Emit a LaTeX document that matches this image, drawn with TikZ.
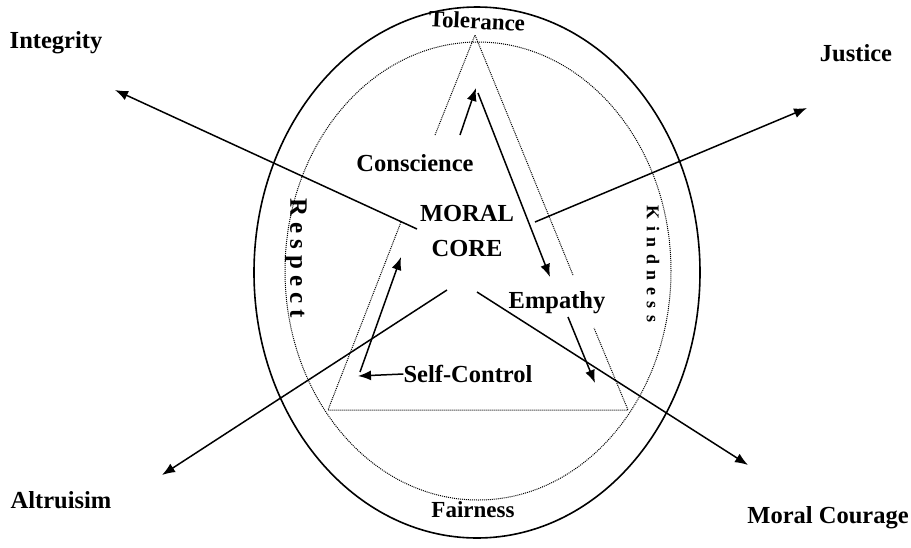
\documentclass[tikz,border=0pt]{standalone}
\usepackage{fontspec}
\setmainfont{Liberation Serif}
\usepackage{tikz}
\usetikzlibrary{arrows.meta,positioning}

\begin{document}
\begin{tikzpicture}[x=1pt,y=-1pt,
    lab/.style={font=\bfseries\fontsize{24.5}{35}\selectfont,inner sep=0pt},
    ring/.style={font=\bfseries\fontsize{23}{25}\selectfont,inner sep=0pt},
    arr/.style={line width=1.5pt,-{Latex[length=13pt,width=10pt]}},
    dots/.style={densely dotted,line width=1pt}]
    \useasboundingbox (0,0) rectangle (911,547);

    % 外圈和内圈
    \draw[line width=1.6pt] (477,272.5) ellipse [x radius=223pt,y radius=265.5pt];
    \draw[dots] (478,271) ellipse [x radius=193pt,y radius=229pt];

    % 三角形 (文字处断开)
    \coordinate (apex) at (475,35); \coordinate (bl) at (328,410); \coordinate (br) at (628,410);
    \draw[dots] (435,135) -- (apex) -- (573,275);
    \draw[dots] (401,222) -- (bl) -- (br) -- (594,328);

    % 圈上的字
    \node[ring,rotate=-3] (tol) at (477,21) {Tolerance};
    \node[ring] (fair) at (473,510) {Fairness};
    \node[ring,rotate=-90,font=\bfseries\fontsize{25}{27}\selectfont] (resp) at (296,258) {\addfontfeature{LetterSpace=24}Respect};
    \node[ring,rotate=-90,font=\bfseries\fontsize{18}{20}\selectfont] (kind) at (653,264) {\addfontfeature{LetterSpace=36}Kindness};

    % 中间的字
    \node[lab,align=center] (core) at (467,231) {MORAL\\CORE};
    \node[lab] (consc) at (415,163) {Conscience};
    \node[lab] (emp) at (557,303) {Empathy};
    \node[lab] (selfc) at (468,374) {Self-Control};

    % 外面四个
    \node[lab] (integ) at (56,43) {Integrity};
    \node[lab] (just) at (856,53) {Justice};
    \node[lab] (altr) at (61,500) {Altruisim};
    \node[lab] (mcour) at (828,518) {Moral Courage};

    % 向外的箭头
    \coordinate (o1) at (417,229); \coordinate (p1) at (115,90);
    \coordinate (o2) at (535,222); \coordinate (p2) at (807,108);
    \coordinate (o3) at (447,290); \coordinate (p3) at (162,475);
    \coordinate (o4) at (477,292); \coordinate (p4) at (748,465);
    \draw[arr] (o1) -- (p1);
    \draw[arr] (o2) -- (p2);
    \draw[arr] (o3) -- (p3);
    \draw[arr] (o4) -- (p4);

    % 三角形里的循环箭头
    \coordinate (c1) at (460,135); \coordinate (c2) at (476,88);
    \coordinate (e1) at (478,93);  \coordinate (e2) at (550,277);
    \coordinate (m1) at (568,317); \coordinate (m2) at (595,383);
    \coordinate (s2) at (358,376);
    \coordinate (r1) at (360,372); \coordinate (r2) at (401,257);
    \draw[arr] (c1) -- (c2);
    \draw[arr] (e1) -- (e2);
    \draw[arr] (m1) -- (m2);
    \draw[arr] (selfc.west) -- (s2);
    \draw[arr] (r1) -- (r2);
\end{tikzpicture}
\end{document}
